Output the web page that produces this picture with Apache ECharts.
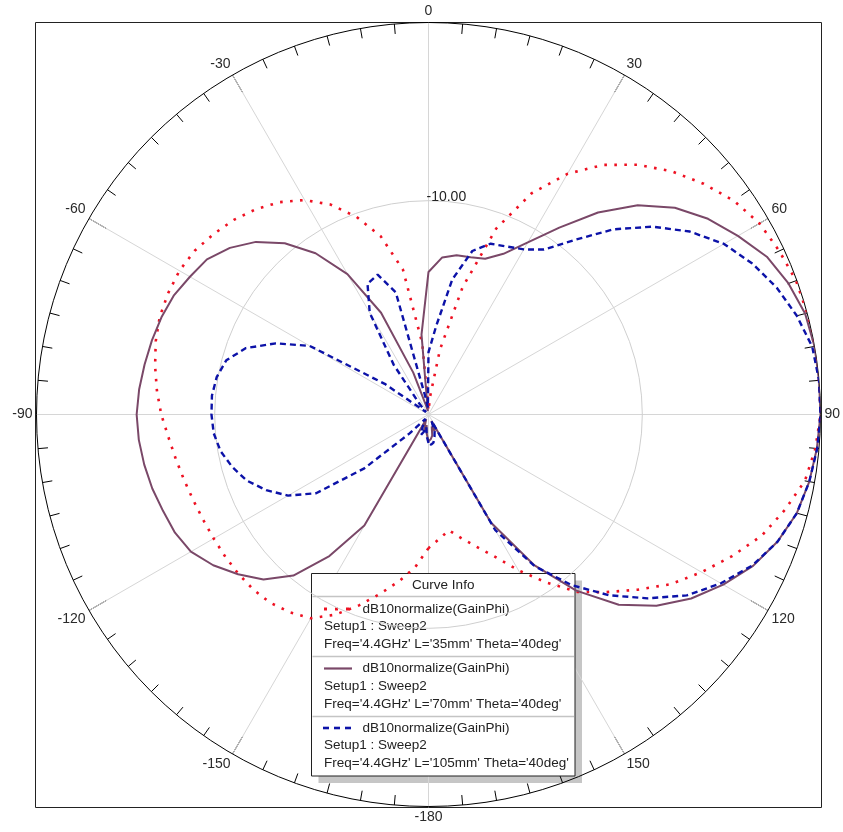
<!DOCTYPE html>
<html>
<head>
<meta charset="utf-8">
<title>dB10normalize(GainPhi)</title>
<script src="https://cdn.jsdelivr.net/npm/echarts@6/dist/echarts.min.js"></script>
<style>
  html, body { margin: 0; padding: 0; background: #ffffff; }
  #chart { width: 843px; height: 832px; }
</style>
</head>
<body>
<div id="chart"></div>
<script>
// Phi sweep (deg) shared by all three curves
const phi = [
  -180, -175, -170, -165, -160, -155, -150, -145, -140, -135, -130, -125, -120,
  -115, -110, -105, -100, -95, -90, -85, -80, -75, -70, -65, -60,
  -55, -50, -45, -40, -35, -30, -25, -20, -15, -10, -5, 0,
  5, 10, 15, 20, 25, 30, 35, 40, 45, 50, 55, 60,
  65, 70, 75, 80, 85, 90, 95, 100, 105, 110, 115, 120,
  125, 130, 135, 140, 145, 150, 155, 160, 165, 170, 175, 180
];

// dB10normalize(GainPhi), L = 35mm
const gainL35 = [
  -14.5, -13.4, -12.5, -11.6, -10.6, -9.6, -8.8, -8.45, -8.2, -8.1, -8.08, -8.08, -8.08,
  -8.04, -7.95, -7.8, -7.6, -7.35, -7.0, -6.7, -6.42, -6.15, -5.95, -5.88, -5.86,
  -5.98, -6.25, -6.55, -6.95, -7.45, -8.1, -9.0, -10.2, -11.65, -13.75, -18.0, -21.8,
  -21.0, -18.3, -14.6, -10.9, -8.3, -6.4, -4.9, -3.7, -2.7, -1.85, -1.08, -0.55,
  -0.28, -0.05, 0, 0, 0, 0, -0.2, -0.55, -1.3, -2.1, -3.2, -4.3,
  -5.4, -6.7, -7.9, -9.0, -10.5, -11.9, -13.2, -14.1, -14.8, -15.4, -15.0, -14.5
];

// dB10normalize(GainPhi), L = 70mm
const gainL70 = [
  -20.5, -20.9, -21.4, -21.0, -21.5, -21.7, -14.8, -12.3, -10.2, -8.9, -8.05, -7.25, -6.6,
  -6.3, -6.15, -5.95, -5.8, -5.68, -5.62, -5.7, -5.82, -5.93, -6.05, -6.22, -6.54,
  -6.82, -7.45, -8.3, -9.45, -10.95, -12.9, -15.7, -19.5, -21.5, -21.8, -17.5, -14.0,
  -13.15, -12.92, -12.86, -12.7, -12.05, -10.85, -9.2, -7.2, -5.4, -3.95, -2.85, -1.95,
  -1.05, -0.5, -0.12, 0, 0, 0, -0.12, -0.3, -0.6, -1.15, -1.9, -2.9,
  -4.0, -5.3, -6.9, -9.1, -11.7, -15.0, -21.6, -21.0, -21.3, -20.8, -20.6, -20.5
];

// dB10normalize(GainPhi), L = 105mm
const gainL105 = [
  -20.4, -20.8, -21.3, -21.0, -20.8, -21.2, -21.5, -21.7, -21.6, -20.5, -17.3, -14.3, -12.9,
  -11.95, -11.15, -10.6, -10.15, -9.9, -9.82, -9.8, -9.93, -10.25, -11.1, -12.55, -14.3,
  -19.0, -21.6, -21.8, -21.2, -18.6, -15.4, -13.9, -13.65, -14.9, -21.0, -21.6, -18.5,
  -17.0, -14.3, -12.5, -11.8, -11.6, -11.3, -10.7, -9.2, -7.3, -5.6, -4.1, -2.85,
  -1.95, -1.2, -0.6, -0.13, 0, 0, -0.1, -0.3, -0.6, -1.15, -1.95, -3.05,
  -4.3, -5.95, -7.65, -9.5, -11.6, -14.5, -21.6, -21.0, -20.7, -20.4, -20.3, -20.4
];

// Radial scale (dB) and the labelled grid ring
const radiusMin = -22;
const radiusMax = 0;
const ringLevel = -10;
const ringLabel = '-10.00';

// Angle axis tick labels
const angleMin = -180;
const angleMax = 180;
const angleStep = 30;

// Curve Info entries
const curveExpr = 'dB10normalize(GainPhi)';
const curveSetup = 'Setup1 : Sweep2';
const curveLengths = ['35mm', '70mm', '105mm'];
const curveFreq = '4.4GHz';
const curveTheta = '40deg';

// Drawing geometry and styles
const FONT = '"Liberation Sans", Arial, sans-serif';
const CX = 428.5, CY = 414.5, R = 392;
const styles = [
  { color: '#ee1122', type: [2.6, 7.4], width: 2.6 },
  { color: '#7a4868', type: 'solid', width: 2 },
  { color: '#0c12a8', type: [6, 4], width: 2.4 }
];
const seriesValues = [gainL35, gainL70, gainL105];

const chart = echarts.init(document.getElementById('chart'), null, { renderer: 'canvas' });

const curveSeries = seriesValues.map((vals, k) => ({
  name: "L='" + curveLengths[k] + "'",
  type: 'line',
  coordinateSystem: 'polar',
  data: vals.map((v, i) => [v, phi[i]]),
  symbol: 'none',
  smooth: false,
  silent: true,
  z: 3 + k,
  lineStyle: { color: styles[k].color, type: styles[k].type, width: styles[k].width }
}));

// -10 dB grid ring drawn on the polar scale
const ringSeries = {
  type: 'line',
  coordinateSystem: 'polar',
  data: phi.map(p => [ringLevel, p]),
  symbol: 'none',
  silent: true,
  z: 1,
  lineStyle: { color: '#cfcfcf', width: 1 }
};

// Curve Info box
const box = { x: 311.5, y: 573.5, w: 263.5, h: 202.5 };
const legendEls = [];
legendEls.push({ type: 'rect', z2: 0, shape: { x: box.x + 7, y: box.y + 7, width: box.w, height: box.h },
  style: { fill: '#c6c6c6' } });
legendEls.push({ type: 'rect', z2: 1, shape: { x: box.x, y: box.y, width: box.w, height: box.h },
  style: { fill: '#ffffff', stroke: '#202020', lineWidth: 1 } });
legendEls.push({ type: 'text', z2: 5, x: box.x + box.w / 2, y: 585,
  style: { text: 'Curve Info', font: '13.5px ' + FONT, fill: '#222', align: 'center', verticalAlign: 'middle' } });
[596.5, 656.5, 716.5].forEach(yy => {
  legendEls.push({ type: 'line', z2: 2, shape: { x1: box.x + 1, y1: yy, x2: box.x + box.w - 1, y2: yy },
    style: { stroke: '#c4c4c4', lineWidth: 1.5 } });
});
curveLengths.forEach((len, k) => {
  const by = 609 + 59.5 * k;
  const st = styles[k];
  if (k === 0) {
    // dotted sample: three square dots
    [324, 335, 346].forEach(dx => {
      legendEls.push({ type: 'rect', z2: 6, shape: { x: dx, y: by - 1.5, width: 3, height: 3 },
        style: { fill: st.color, stroke: null } });
    });
  } else if (k === 1) {
    legendEls.push({ type: 'line', z2: 6, shape: { x1: 324, y1: by, x2: 352, y2: by },
      style: { stroke: st.color, lineWidth: 2.2 } });
  } else {
    [[323, 329], [334, 340], [345, 351]].forEach(seg => {
      legendEls.push({ type: 'line', z2: 6, shape: { x1: seg[0], y1: by, x2: seg[1], y2: by },
        style: { stroke: st.color, lineWidth: 2.6 } });
    });
  }
  legendEls.push({ type: 'text', z2: 5, x: 362.5, y: by,
    style: { text: curveExpr, font: '13.5px ' + FONT, fill: '#222', verticalAlign: 'middle' } });
  legendEls.push({ type: 'text', z2: 5, x: 324, y: by + 17.7,
    style: { text: curveSetup, font: '13.5px ' + FONT, fill: '#222', verticalAlign: 'middle' } });
  legendEls.push({ type: 'text', z2: 5, x: 324, y: by + 35.3,
    style: { text: "Freq='" + curveFreq + "' L='" + len + "' Theta='" + curveTheta + "'",
      font: '13.5px ' + FONT, fill: '#222', verticalAlign: 'middle' } });
});

const ringY = CY - R * (ringLevel - radiusMin) / (radiusMax - radiusMin);

chart.setOption({
  animation: false,
  backgroundColor: '#ffffff',
  polar: { center: [CX, CY], radius: R },
  angleAxis: {
    type: 'value',
    min: angleMin,
    max: angleMax,
    interval: angleStep,
    startAngle: 270,
    clockwise: true,
    axisLine: { show: true, lineStyle: { color: '#000', width: 1 } },
    axisTick: { show: true, inside: true, length: 20, lineStyle: { color: '#000', width: 1 } },
    minorTick: { show: true, splitNumber: 6, length: 10, lineStyle: { color: '#000', width: 1 } },
    axisLabel: {
      show: true, margin: 4, color: '#2a2a2a', fontSize: 14, fontFamily: FONT,
      formatter: v => (v === angleMax ? '' : String(v))
    },
    splitLine: { show: true, lineStyle: { color: '#d6d6d6', width: 1 } },
    minorSplitLine: { show: false }
  },
  radiusAxis: {
    type: 'value',
    min: radiusMin,
    max: radiusMax,
    axisLine: { show: false },
    axisTick: { show: false },
    axisLabel: { show: false },
    splitLine: { show: false }
  },
  series: [ringSeries].concat(curveSeries),
  graphic: [
    { type: 'rect', z: 0, silent: true, shape: { x: 35.5, y: 22.5, width: 786, height: 785 },
      style: { fill: 'none', stroke: '#222', lineWidth: 1 } },
    { type: 'text', z: 10, x: CX - 2, y: ringY - 4,
      style: { text: ringLabel, font: '14px ' + FONT, fill: '#222', verticalAlign: 'middle' } },
    { type: 'group', z: 20, children: legendEls }
  ]
});
</script>
</body>
</html>
